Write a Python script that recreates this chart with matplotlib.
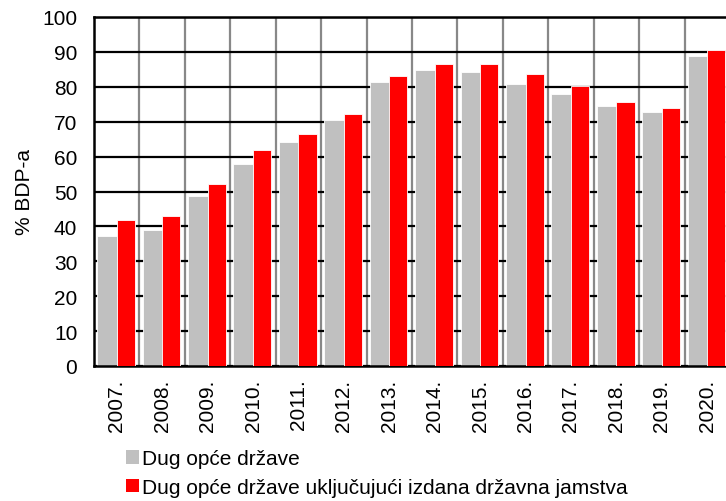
import numpy as np
import matplotlib.pyplot as plt
from matplotlib.patches import Patch

plt.rcParams['font.family'] = ['Liberation Sans', 'DejaVu Sans']

# data (% of GDP)
years = ['2007.', '2008.', '2009.', '2010.', '2011.', '2012.', '2013.',
         '2014.', '2015.', '2016.', '2017.', '2018.', '2019.', '2020.']
debt = [37.3, 39.1, 48.8, 58.0, 64.2, 70.4, 81.4,
        84.8, 84.2, 80.8, 77.9, 74.5, 72.8, 88.7]
debt_guar = [41.9, 43.1, 52.2, 61.9, 66.5, 72.2, 83.0,
             86.4, 86.4, 83.6, 80.1, 75.6, 73.9, 90.5]

label_debt = 'Dug opće države'
label_guar = 'Dug opće države uključujući izdana državna jamstva'

fig = plt.figure(figsize=(7.26, 5.02), dpi=100)
ax = fig.add_axes([94 / 726, 135 / 502, 636 / 726, 349 / 502])

x = np.arange(len(years))
ax.bar(x - 0.21, debt, width=0.44, color='#C0C0C0', edgecolor='white', linewidth=0.6, zorder=2)
ax.bar(x + 0.2, debt_guar, width=0.40, color='#FF0000', edgecolor='white', linewidth=0.6, zorder=3)

ax.set_xlim(-0.5, len(years) - 0.5)
ax.set_ylim(0, 100)
ax.set_yticks(np.arange(0, 101, 10))
ax.set_xticks(x)
ax.set_xticklabels(years, rotation=90)
ax.set_xticks(np.arange(0.5, len(years) - 0.5, 1), minor=True)

# grid: black horizontal, grey vertical at category boundaries
ax.grid(axis='y', which='major', color='black', linewidth=1.6, zorder=0)
ax.grid(axis='x', which='minor', color='#888888', linewidth=1.6, zorder=0)
ax.grid(axis='x', which='major', visible=False)
ax.set_axisbelow(True)

ax.tick_params(axis='both', which='both', length=0, labelsize=15)
ax.tick_params(axis='y', pad=12)
ax.tick_params(axis='x', pad=9)
ax.set_ylabel('% BDP-a', fontsize=15, labelpad=6)

for side in ['left', 'bottom', 'top']:
    ax.spines[side].set_linewidth(1.8)
    ax.spines[side].set_color('black')
ax.spines['right'].set_visible(False)

handles = [Patch(facecolor='#C0C0C0', label=label_debt),
           Patch(facecolor='#FF0000', label=label_guar)]
fig.legend(handles=handles, loc='upper left', bbox_to_anchor=(118 / 726, 1 - 442 / 502),
           frameon=False, fontsize=15, handlelength=0.62, handleheight=0.62,
           handletextpad=0.15, labelspacing=0.45, borderaxespad=0)

fig.savefig('out.png', dpi=100)
